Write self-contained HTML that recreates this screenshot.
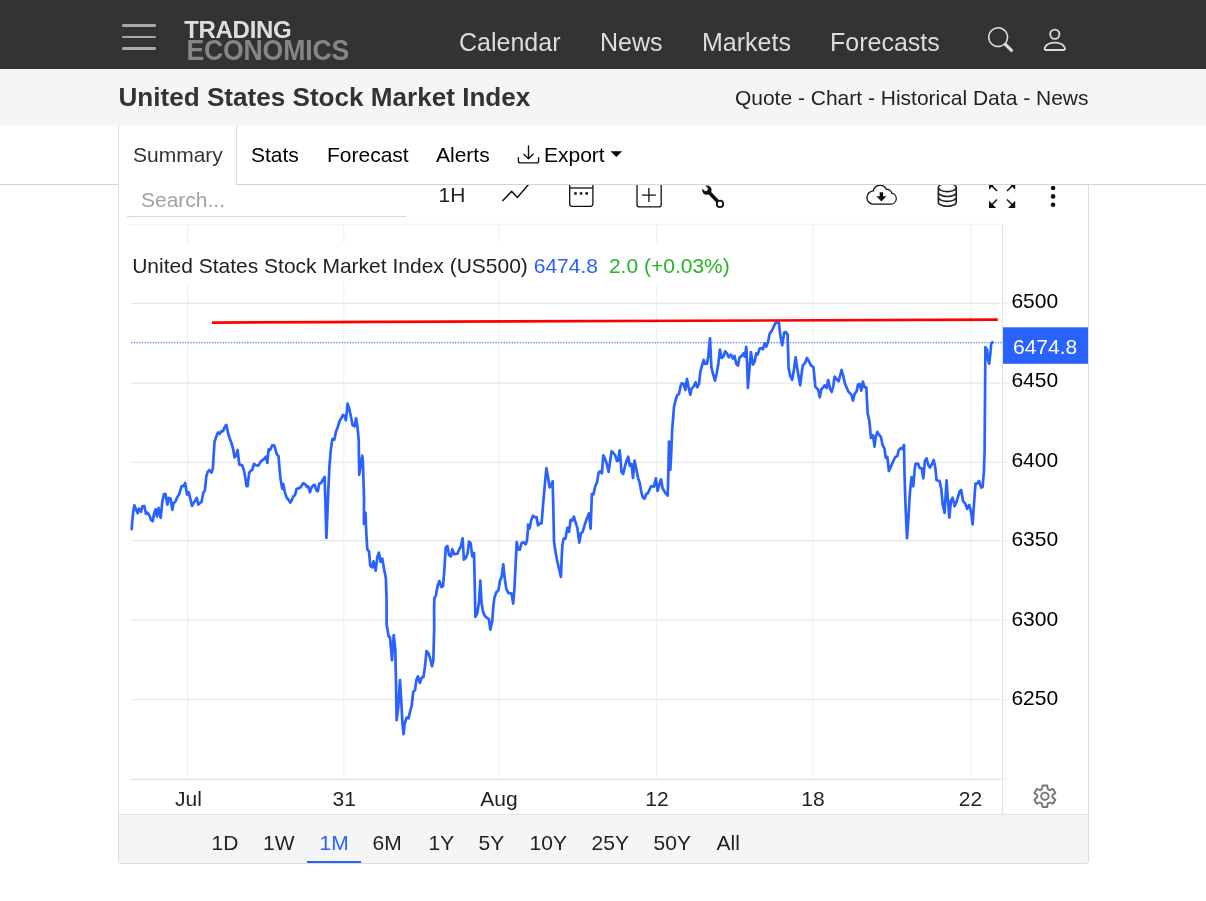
<!DOCTYPE html>
<html lang="en"><head><meta charset="utf-8"><title>United States Stock Market Index</title>
<style>
*{box-sizing:border-box;margin:0;padding:0}
html,body{width:1206px;height:901px;overflow:hidden;background:#fff}
body{font-family:"Liberation Sans",Arial,sans-serif;color:#000;position:relative}
.abs{position:absolute;white-space:nowrap;line-height:1}
#nav{position:absolute;left:0;top:0;width:1206px;height:69px;background:#333}
#nav .lnk{color:#dcdcdc;font-size:25px;top:29.5px}
.hb{position:absolute;left:122px;width:34px;height:2.4px;background:#a9a9a9;border-radius:1.2px}
#logo1{left:184.2px;top:17.6px;font-weight:bold;font-size:24px;color:#dedede;letter-spacing:-0.3px}
#logo2{left:186.4px;top:35.65px;font-weight:bold;font-size:26.6px;color:#868686;letter-spacing:-0.15px;transform:scaleY(1.1);transform-origin:0 0}
#hd{position:absolute;left:0;top:69px;width:1206px;height:56px;background:#f5f5f5}
#hd h1{left:118.5px;top:84px;font-size:26.1px;font-weight:bold;color:#333}
#hd .r{right:117px;top:88px;font-size:21px;color:#222;position:absolute}
#tabline{position:absolute;left:0;top:184px;width:1206px;height:1px;background:#d4d4d4}
#tab1{position:absolute;left:118px;top:125px;width:119px;height:60px;border:1px solid #ddd;border-top:0;border-bottom:0;background:#fff}
.tab{font-size:21px;top:144.1px;color:#000}
#box{position:absolute;left:118px;top:185px;width:971px;height:678.5px;border:1px solid #ddd;border-top:0;border-radius:0 0 4px 4px;background:#fff;overflow:hidden}
#rng{position:absolute;left:0;top:629px;width:969px;height:49px;background:#f5f5f5;border-top:1px solid #e3e3e3}
.rb{font-size:21px;color:#222;top:831.9px;margin-left:-0.4px}
svg{position:absolute;left:0;top:0;overflow:visible}
</style></head><body>
<div id="nav">
 <div class="hb" style="top:24.3px"></div><div class="hb" style="top:35.8px"></div><div class="hb" style="top:47.2px"></div>
 <div class="abs" id="logo1">TRADING</div>
 <div class="abs" id="logo2">ECONOMICS</div>
 <div class="abs lnk" style="left:459px">Calendar</div>
 <div class="abs lnk" style="left:600px">News</div>
 <div class="abs lnk" style="left:702px">Markets</div>
 <div class="abs lnk" style="left:830px">Forecasts</div>
 <svg style="left:988.2px;top:26.6px" width="25" height="25" viewBox="0 0 16 16" fill="#dcdcdc"><path d="M11.742 10.344a6.5 6.5 0 1 0-1.397 1.398h-.001q.044.06.098.115l3.85 3.85a1 1 0 0 0 1.415-1.414l-3.85-3.85a1 1 0 0 0-.115-.1zM12 6.5a5.500 5.500 0 1 1-11 0 5.500 5.500 0 0 1 11 0"/></svg>
 <svg style="left:1040.1px;top:25px" width="29.6" height="29.6" viewBox="0 0 16 16" fill="#dcdcdc"><path d="M8 8a3 3 0 1 0 0-6 3 3 0 0 0 0 6m2-3a2 2 0 1 1-4 0 2 2 0 0 1 4 0m4 8c0 1-1 1-1 1H3s-1 0-1-1 1-4 6-4 6 3 6 4m-1-.004c-.001-.246-.154-.986-.832-1.664C11.516 10.680 10.289 10 8 10s-3.516.680-4.168 1.332c-.678.678-.830 1.418-.832 1.664z"/></svg>
</div>
<div id="hd">
 <h1 class="abs" style="top:15px">United States Stock Market Index</h1>
 <div class="abs r" style="top:17.6px;right:117.5px">Quote - Chart - Historical Data - News</div>
</div>
<div id="tabline"></div>
<div id="tab1"></div>
<div class="abs tab" style="left:133px;color:#333">Summary</div>
<div class="abs tab" style="left:251px">Stats</div>
<div class="abs tab" style="left:327px">Forecast</div>
<div class="abs tab" style="left:436px">Alerts</div>
<div class="abs tab" style="left:544px">Export</div>
<svg width="1206" height="901" viewBox="0 0 1206 901"><g fill="none" stroke="#111" stroke-width="1.350" stroke-linecap="round" stroke-linejoin="round"><path d="M518.400 157.600v3.300a2 2 0 0 0 2 2h16.200a2 2 0 0 0 2-2v-3.300"/><path d="M528.500 145.800V158.300M523.900 154.200l4.600 4.500 4.600-4.500"/></g></svg>
<svg style="left:610px;top:151px" width="14" height="8" viewBox="0 0 14 8"><path d="M0.500 0.200h11.600L6.300 6.100z" fill="#000"/></svg>

<div id="box">
 <div id="rng"></div>
</div>

<!-- chart -->
<svg width="1206" height="901" viewBox="0 0 1206 901" style="pointer-events:none">
 <g id="clipg">
 <g stroke="#ecf1f6" stroke-width="1.1" fill="none">
  <path d="M187.600 224V778M343.800 224V778M498.700 224V778M656.800 224V778M812.800 224V778M970.700 224V778"/>
 </g>
 <g stroke="#e8e8e8" stroke-width="1.3" fill="none">
  <path d="M131 303.300H1000.500M131 383.200H1000.500M131 462.400H1000.500M131 540.600H1000.500M131 620.200H1000.500M131 699.600H1000.500"/>
 </g>
 <path d="M131 224.200H1002" stroke="#f0f0f0" stroke-width="1" fill="none"/>
 <g stroke="#e0e0e0" stroke-width="1.2" fill="none">
  <path d="M1002.5 224V814M131 779.4H1001"/>
  <path d="M1003 303.300h5.500M1003 383.200h5.500M1003 462.400h5.500M1003 540.600h5.500M1003 620.200h5.500M1003 699.600h5.500M1003 779h5.500" stroke="#ececec"/>
 </g>
 <rect x="131" y="243" width="610" height="39.500" fill="#fff"/>
 <path d="M131 342.700H1003" stroke="#2962ff" stroke-width="1.100" stroke-dasharray="1.350 1.350" fill="none"/>
 <polyline points="131.7,529.2 132.3,520.6 133.3,511.3 134.3,505.3 135.7,508.6 137.7,513.3 139.0,508.6 141.0,511.9 142.3,506.6 144.3,505.9 146.0,513.9 147.6,512.6 149.6,515.9 151.0,519.9 152.7,521.2 154.0,513.9 155.6,509.3 157.0,516.6 158.6,507.9 160.7,517.9 162.3,501.9 163.9,494.2 165.6,494.2 167.4,504.6 169.0,497.9 170.6,498.6 172.3,509.9 173.6,503.3 175.6,501.3 177.2,497.3 179.0,494.6 181.6,486.2 183.6,486.2 185.2,483.0 187.0,494.6 188.7,492.3 190.3,498.6 192.0,505.9 194.3,501.9 196.7,497.9 198.3,504.6 200.3,502.6 201.6,501.9 203.3,492.6 204.9,490.6 206.3,476.6 207.6,472.0 209.2,470.0 211.6,472.6 212.9,468.0 214.0,450.0 214.5,442.0 216.3,436.6 218.0,432.4 219.6,434.0 221.2,431.3 222.9,431.3 224.7,427.1 226.3,424.9 228.3,434.0 230.0,439.3 231.6,443.3 233.2,449.3 234.5,457.3 236.2,455.3 237.6,450.0 239.3,464.6 242.2,465.3 243.8,470.0 245.6,479.3 246.5,486.2 247.6,486.2 249.2,472.6 250.9,470.6 252.2,470.0 254.0,464.0 256.2,465.3 258.2,465.7 260.9,461.3 263.6,459.3 266.0,456.6 267.3,463.0 268.6,449.3 270.2,450.0 272.2,445.3 274.2,445.3 276.9,454.6 278.5,456.0 279.5,468.6 280.6,479.3 282.2,488.6 283.3,484.0 285.0,492.9 286.7,497.6 288.3,499.6 290.3,502.6 291.7,500.2 293.4,496.3 295.0,495.2 296.6,488.9 298.3,488.5 300.6,487.2 303.2,483.2 305.4,484.5 307.0,486.9 308.3,486.3 309.9,492.3 311.6,487.6 313.0,485.6 314.7,484.9 316.3,490.3 317.9,491.2 319.2,483.6 321.0,483.2 322.7,480.0 324.6,476.9 325.4,501.6 326.4,538.0 328.3,490.9 329.4,466.9 330.7,451.0 332.3,439.0 334.3,439.6 336.0,431.6 337.6,427.6 339.6,421.0 341.3,418.3 342.9,415.0 344.5,416.0 345.9,420.3 347.6,403.7 349.3,409.0 350.9,416.3 352.5,425.0 354.7,426.3 356.0,418.3 357.6,427.6 358.7,440.3 359.2,474.9 360.3,467.6 362.3,455.6 362.9,461.6 364.0,497.6 363.9,524.0 365.5,512.7 366.3,533.3 367.3,549.3 369.0,551.3 370.3,565.9 372.2,567.3 373.5,561.3 375.7,570.6 377.3,557.3 378.9,552.6 380.6,562.0 382.3,558.6 383.9,567.9 385.9,578.6 386.6,601.3 386.6,624.3 388.6,636.3 390.0,637.0 392.0,660.3 393.7,635.0 395.3,649.6 396.0,681.6 396.6,720.2 398.2,708.3 400.0,680.0 401.3,701.6 402.6,725.6 403.6,734.2 404.6,724.2 406.6,717.6 408.6,718.3 410.2,710.9 411.6,706.3 413.3,691.6 415.0,690.3 416.3,680.3 417.9,676.3 419.9,682.9 421.7,677.6 423.5,677.0 424.9,667.0 426.6,651.0 428.6,653.6 430.6,660.3 431.9,666.3 433.3,661.0 434.2,628.3 434.1,610.3 434.3,598.3 435.9,595.6 437.7,585.6 439.4,581.0 441.3,587.0 443.0,586.3 444.3,570.3 445.7,547.6 447.4,546.0 449.0,555.0 451.0,556.3 452.3,549.2 454.3,554.3 457.6,553.6 459.4,549.0 461.0,546.3 462.6,538.3 463.9,559.6 466.0,557.6 467.6,553.0 469.0,541.7 470.6,543.0 472.3,556.3 474.0,553.0 474.6,578.3 475.4,616.9 477.2,613.6 479.0,602.3 480.3,580.7 481.6,603.6 483.0,611.6 484.7,615.6 487.0,618.0 488.9,618.9 490.3,629.6 492.3,620.9 493.2,607.6 494.3,598.3 496.3,592.3 498.5,590.3 499.9,581.0 501.6,577.0 503.3,564.3 504.7,578.3 506.3,588.9 508.3,592.9 511.6,593.6 513.2,603.6 514.5,587.6 515.6,565.0 516.7,542.1 518.3,549.6 519.9,549.6 521.6,543.0 523.6,542.3 525.6,544.3 526.9,541.0 527.9,530.3 528.0,524.6 529.6,528.6 531.3,519.9 533.0,515.7 534.9,517.3 536.6,517.0 538.0,525.3 539.7,523.3 541.6,523.3 542.9,506.6 544.6,487.3 546.4,468.2 548.0,477.3 549.6,487.3 551.3,485.3 552.6,481.3 553.3,506.6 554.0,541.3 555.3,550.6 557.0,560.0 560.9,577.0 561.6,560.0 562.4,545.2 563.7,538.6 565.5,538.6 567.3,527.9 569.0,531.9 570.6,519.9 572.2,520.6 573.9,516.6 575.7,522.6 577.5,528.6 579.3,542.6 581.0,533.3 582.6,531.9 584.6,525.3 586.6,519.3 589.0,513.3 590.6,528.6 591.3,509.3 591.9,494.0 593.5,494.4 595.3,486.0 597.0,482.6 598.6,472.6 600.2,471.3 601.9,473.3 603.3,455.3 605.2,459.3 606.8,464.0 608.6,472.0 609.9,462.6 611.6,451.3 613.2,452.7 615.2,455.3 617.0,461.0 618.3,460.7 619.6,450.4 620.6,460.0 621.5,472.0 623.2,474.0 625.2,465.3 626.8,460.0 628.2,456.7 629.9,466.0 631.6,464.0 633.0,478.0 634.6,460.7 636.2,468.6 637.9,477.3 639.6,482.6 641.2,491.3 642.8,497.3 644.6,498.6 646.3,494.0 647.9,493.3 651.2,486.0 653.9,486.6 655.9,478.4 657.6,490.9 659.3,484.9 661.0,479.3 662.6,488.3 665.3,492.9 667.7,495.6 668.2,478.3 668.6,459.6 669.0,441.6 670.4,469.6 671.3,451.6 672.2,429.0 673.3,415.6 674.0,407.0 675.7,399.7 677.3,395.0 678.9,394.3 680.6,386.3 681.7,383.3 683.7,383.9 685.3,389.9 687.0,378.9 688.7,387.9 690.3,394.6 691.6,388.6 693.6,386.6 695.6,382.3 697.2,387.3 699.0,383.9 700.3,371.9 702.0,365.9 703.6,360.0 705.2,363.9 707.0,363.7 708.3,356.0 710.0,338.4 711.4,367.3 713.0,373.9 715.0,380.6 716.7,373.3 718.3,363.9 719.9,349.6 721.6,358.0 723.6,356.0 725.2,351.3 727.0,353.3 728.9,357.3 730.9,354.6 732.9,358.6 734.5,356.0 736.3,363.9 738.0,365.5 739.6,357.3 741.6,356.0 743.6,353.3 744.7,356.6 746.3,346.9 747.3,369.3 747.9,387.9 749.2,371.9 750.9,352.0 752.9,364.6 754.5,362.0 756.3,353.3 757.6,354.6 759.6,348.6 761.6,348.0 762.9,349.3 764.7,343.3 766.3,346.6 767.9,342.6 769.6,334.0 772.2,330.0 775.6,322.6 778.9,322.6 780.2,334.6 782.2,345.3 784.2,332.6 785.6,332.0 787.6,334.6 788.6,367.9 790.2,375.9 792.2,379.9 794.0,369.3 795.6,357.3 797.6,370.6 800.2,385.3 802.0,370.6 802.9,365.3 804.9,363.3 806.9,358.0 808.9,361.3 810.9,365.3 813.5,367.3 815.3,386.6 818.2,389.9 819.8,397.3 821.3,389.3 823.3,387.3 824.6,385.3 826.6,388.0 828.2,380.0 830.0,388.6 831.7,392.0 833.3,386.0 834.6,376.6 836.6,379.3 838.6,381.3 840.0,376.0 841.6,370.0 843.3,376.0 845.0,384.0 846.6,387.3 848.2,391.3 851.3,394.6 853.0,400.6 854.6,393.9 856.6,391.3 858.0,384.6 859.7,384.0 861.3,390.6 862.9,381.7 864.6,387.3 866.3,387.3 866.9,399.3 867.7,413.3 869.5,421.9 870.9,437.9 873.0,435.2 874.6,446.6 875.6,437.7 877.3,431.9 879.0,434.6 880.9,437.0 882.6,445.0 884.4,448.3 885.7,457.6 887.3,457.0 888.9,471.0 891.3,465.6 893.3,461.0 895.3,457.0 897.3,456.3 898.6,450.3 900.4,448.3 902.2,449.0 904.0,445.0 904.6,478.3 905.7,510.3 907.0,538.2 908.4,518.3 910.0,491.6 911.6,477.0 913.3,486.3 914.6,470.3 915.5,463.9 918.2,463.6 919.5,467.9 921.7,468.3 923.3,478.3 924.9,461.0 926.6,458.3 928.3,465.0 929.9,467.6 931.9,464.3 933.7,459.9 935.3,467.6 936.6,480.3 939.5,481.0 941.3,488.9 942.6,503.6 944.6,512.9 945.7,494.3 946.6,480.3 947.9,499.6 949.3,517.6 951.0,500.9 952.6,497.6 954.6,506.3 956.6,501.6 959.5,491.6 961.2,490.0 963.0,500.9 965.2,503.6 967.2,508.9 969.2,504.9 971.0,511.6 972.6,524.3 973.9,504.9 975.5,483.6 977.2,483.6 979.0,481.0 981.2,487.6 982.6,487.0 983.9,471.6 984.6,451.6 985.4,347.2 987.1,349.7 987.9,359.6 989.2,363.7 990.4,353.0 991.2,343.8 992.5,342.2" fill="none" stroke="#2962ff" stroke-width="2.700" stroke-linejoin="round" stroke-linecap="round"/>
 <path d="M212 322.600L997.800 319.600" stroke="#ff0000" stroke-width="2.700" fill="none"/>
 </g>
 <rect x="1003" y="327.3" width="85" height="36.5" fill="#2962ff"/>
 <g font-family="Liberation Sans, Arial, sans-serif" font-size="21" fill="#000">
  <text x="1011.4" y="307.5">6500</text>
  <text x="1011.4" y="387.1">6450</text>
  <text x="1011.4" y="466.7">6400</text>
  <text x="1011.4" y="546.2">6350</text>
  <text x="1011.4" y="625.8">6300</text>
  <text x="1011.4" y="705.4">6250</text>
  <text x="1013" y="354" fill="#fff">6474.8</text>
  <g text-anchor="middle" fill="#222">
  <text x="188.400" y="806">Jul</text>
  <text x="344.200" y="806">31</text>
  <text x="499" y="806">Aug</text>
  <text x="657" y="806">12</text>
  <text x="813" y="806">18</text>
  <text x="970.500" y="806">22</text>
  </g>
  <text x="132.200" y="272.800" font-size="21" fill="#222">United States Stock Market Index (US500) <tspan fill="#2962ff">6474.8</tspan><tspan fill="#26b526" dx="11">2.0 (+0.03%)</tspan></text>
 </g>
</svg>

<!-- toolbar -->
<div class="abs" style="left:141px;top:189px;font-size:21px;color:#a2a2a2">Search...</div>
<div style="position:absolute;left:127px;top:216px;width:279px;height:1px;background:#d9d9d9"></div>
<div class="abs" style="left:438.500px;top:184px;font-size:21px;color:#222">1H</div>
<svg id="tb" width="1206" height="901" viewBox="0 0 1206 901" style="clip-path:inset(185px 0 0 0)">
 <polyline points="502.400,200.900 511.700,191.400 517.400,197.400 531,181.500" fill="none" stroke="#111" stroke-width="1.500"/>
 <g fill="none" stroke="#111" stroke-width="1.300">
  <rect x="569.700" y="182.500" width="23.200" height="23.800" rx="2.500"/>
  <path d="M569.700 188H592.900"/>
  <rect x="637" y="182.500" width="24.200" height="24.400" rx="2.500"/>
  <path d="M642 195.100H655.800M648.900 188V202"/>
 </g>
 <g fill="#111"><rect x="574.200" y="192.200" width="2.500" height="2.500"/><rect x="579.800" y="192.200" width="2.500" height="2.500"/><rect x="585.400" y="192.200" width="2.500" height="2.500"/></g>
 <!-- wrench -->
 <g>
  <circle cx="706.9" cy="190.1" r="4.7" fill="#111"/>
  <path d="M705.7 188.9L699 182.2" stroke="#fff" stroke-width="4.2" stroke-linecap="round" fill="none"/>
  <path d="M708.3 191.5L718.2 202" stroke="#111" stroke-width="3.5" fill="none"/>
  <circle cx="720" cy="203.9" r="3.2" fill="#fff" stroke="#111" stroke-width="1.8"/>
 </g>
 <!-- cloud -->
 <path d="M872.600 204.200h17.900a5.600 5.600 0 0 0 1.200-11.100a4.500 4.500 0 0 0-5.300-3.600a6.900 6.900 0 0 0-13.100 1.300a6.750 6.750 0 0 0-.7 13.400z" fill="none" stroke="#111" stroke-width="1.300"/>
 <path d="M879.700 192.300h3.400v4h3.300l-5 5.200-5-5.200h3.300z" fill="#111"/>
 <!-- database -->
 <svg x="934.300" y="181" width="26" height="26" viewBox="0 0 16 16" fill="#222"><path d="M4.318 2.687C5.234 2.271 6.536 2 8 2s2.766.270 3.682.687C12.644 3.125 13 3.627 13 4c0 .374-.356.875-1.318 1.313C10.766 5.729 9.464 6 8 6s-2.766-.270-3.682-.687C3.356 4.875 3 4.373 3 4c0-.374.356-.875 1.318-1.313M13 5.698V7c0 .374-.356.875-1.318 1.313C10.766 8.729 9.464 9 8 9s-2.766-.270-3.682-.687C3.356 7.875 3 7.373 3 7V5.698c.271.202.580.378.904.525C4.978 6.711 6.427 7 8 7s3.022-.289 4.096-.777A5 5 0 0 0 13 5.698M14 4c0-1.007-.875-1.755-1.904-2.223C11.022 1.289 9.573 1 8 1s-3.022.289-4.096.777C2.875 2.245 2 2.993 2 4v9c0 1.007.875 1.755 1.904 2.223C4.978 15.710 6.427 16 8 16s3.022-.289 4.096-.777C13.125 14.755 14 14.007 14 13zm-1 4.698V10c0 .374-.356.875-1.318 1.313C10.766 11.729 9.464 12 8 12s-2.766-.270-3.682-.687C3.356 10.875 3 10.373 3 10V8.698c.271.202.580.378.904.525C4.978 9.710 6.427 10 8 10s3.022-.289 4.096-.777A5 5 0 0 0 13 8.698m0 3V13c0 .374-.356.875-1.318 1.313C10.766 14.729 9.464 15 8 15s-2.766-.270-3.682-.687C3.356 13.875 3 13.373 3 13v-1.302c.271.202.580.378.904.525C4.978 12.710 6.427 13 8 13s3.022-.289 4.096-.777c.324-.147.633-.323.904-.525"/></svg>
 <!-- fullscreen -->
 <g stroke="#111" stroke-width="1.500" fill="#111">
  <path d="M997 191L991 185M1007 191L1013 185M997 199.500L991 205.500M1007 199.500L1013 205.500" fill="none"/>
  <path d="M989 182.600h7.200l-7.200 7.200zM1015.200 182.600h-7.200l7.200 7.200zM989 207.900h7.200l-7.200-7.200zM1015.200 207.900h-7.200l7.200-7.200z" stroke="none"/>
 </g>
 <circle cx="1053.100" cy="188" r="2.300" fill="#111"/><circle cx="1053.100" cy="196.400" r="2.300" fill="#111"/><circle cx="1053.100" cy="204.700" r="2.300" fill="#111"/>
</svg>
<!-- gear -->
<svg width="1206" height="901" viewBox="0 0 1206 901"><g fill="none" stroke="#757575" stroke-width="1.9" stroke-linejoin="round"><path d="M1047.80 789.19L1047.14 785.54L1042.56 785.54L1041.90 789.19A7.70 7.70 0 0 0 1040.16 790.19L1036.68 788.94L1034.39 792.90L1037.22 795.29A7.70 7.70 0 0 0 1037.22 797.31L1034.39 799.70L1036.68 803.66L1040.16 802.41A7.70 7.70 0 0 0 1041.90 803.41L1042.56 807.06L1047.14 807.06L1047.80 803.41A7.70 7.70 0 0 0 1049.54 802.41L1053.02 803.66L1055.31 799.70L1052.48 797.31A7.70 7.70 0 0 0 1052.48 795.29L1055.31 792.90L1053.02 788.94L1049.54 790.19A7.70 7.70 0 0 0 1047.80 789.19Z"/><circle cx="1044.85" cy="796.30" r="3.7"/></g></svg>

<!-- range buttons -->
<div class="abs rb" style="left:212px">1D</div>
<div class="abs rb" style="left:263.500px">1W</div>
<div class="abs rb" style="left:320px;color:#2962ff">1M</div>
<div class="abs rb" style="left:373px">6M</div>
<div class="abs rb" style="left:429px">1Y</div>
<div class="abs rb" style="left:479px">5Y</div>
<div class="abs rb" style="left:530px">10Y</div>
<div class="abs rb" style="left:592px">25Y</div>
<div class="abs rb" style="left:654px">50Y</div>
<div class="abs rb" style="left:717px">All</div>
<div style="position:absolute;left:307px;top:860.6px;width:53.7px;height:2.5px;background:#2962ff"></div>
</body></html>
